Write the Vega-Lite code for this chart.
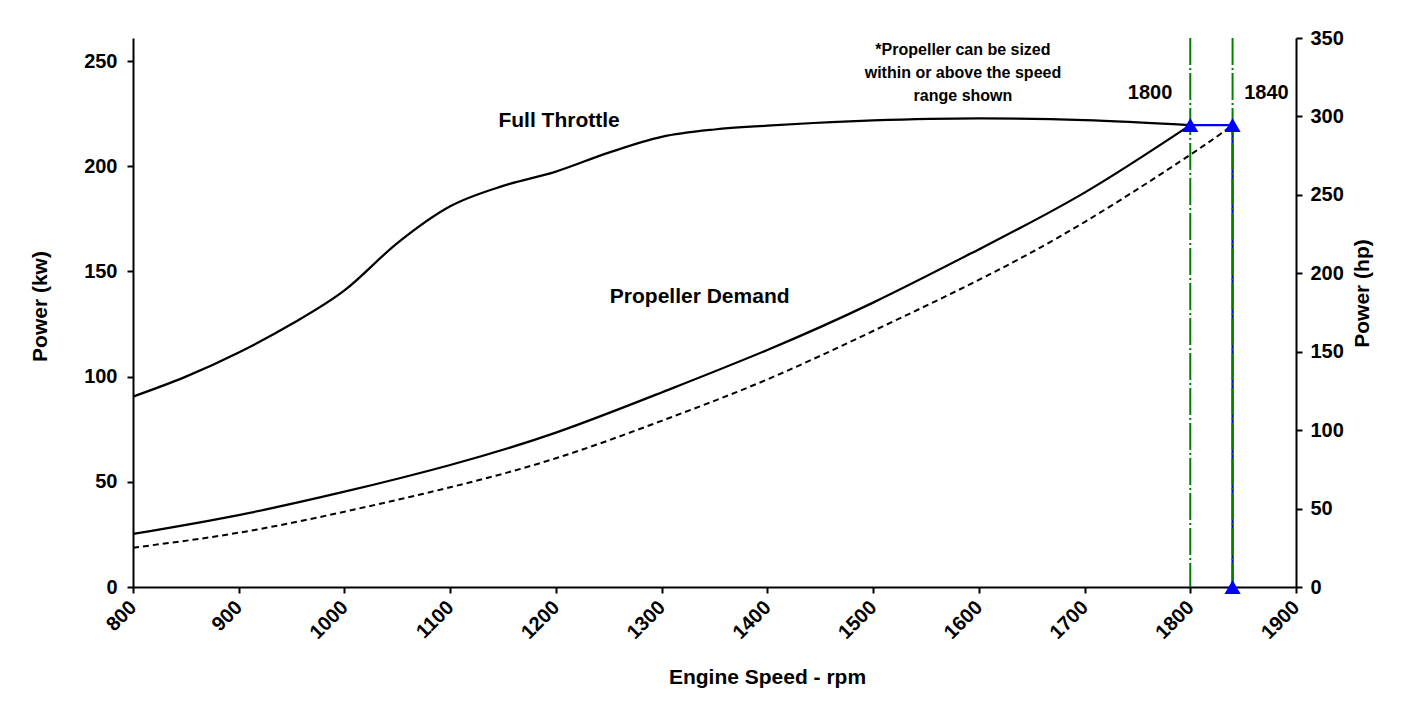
{
  "$schema": "https://vega.github.io/schema/vega-lite/v6.json",
  "width": 1163,
  "height": 549,
  "autosize": {"type": "none"},
  "padding": {"left": 133, "top": 38, "right": 108, "bottom": 125},
  "background": "white",
  "config": {
    "font": "Liberation Sans",
    "view": {"stroke": null},
    "axis": {
      "labelFont": "Liberation Sans", "labelFontSize": 20, "labelFontWeight": "bold", "labelColor": "#000",
      "titleFont": "Liberation Sans", "titleFontSize": 21, "titleFontWeight": "bold", "titleColor": "#000",
      "domainColor": "#000", "domainWidth": 2, "tickColor": "#000", "tickWidth": 2, "tickSize": 6,
      "grid": false, "labelFlush": false, "labelOverlap": false
    }
  },
  "datasets": {
    "curves": [
      {"series": "full", "rpm": 800, "kw": 90.5},
      {"series": "full", "rpm": 850, "kw": 100},
      {"series": "full", "rpm": 900, "kw": 111.5},
      {"series": "full", "rpm": 950, "kw": 125},
      {"series": "full", "rpm": 1000, "kw": 141},
      {"series": "full", "rpm": 1050, "kw": 163.5},
      {"series": "full", "rpm": 1100, "kw": 181},
      {"series": "full", "rpm": 1150, "kw": 190.7},
      {"series": "full", "rpm": 1200, "kw": 197.5},
      {"series": "full", "rpm": 1250, "kw": 206.5},
      {"series": "full", "rpm": 1300, "kw": 214},
      {"series": "full", "rpm": 1350, "kw": 217.5},
      {"series": "full", "rpm": 1400, "kw": 219.3},
      {"series": "full", "rpm": 1500, "kw": 221.8},
      {"series": "full", "rpm": 1600, "kw": 222.8},
      {"series": "full", "rpm": 1700, "kw": 222},
      {"series": "full", "rpm": 1800, "kw": 219.6},
      {"series": "prop", "rpm": 800, "kw": 25.2},
      {"series": "prop", "rpm": 900, "kw": 34.2},
      {"series": "prop", "rpm": 1000, "kw": 45.3},
      {"series": "prop", "rpm": 1100, "kw": 58},
      {"series": "prop", "rpm": 1200, "kw": 73.4},
      {"series": "prop", "rpm": 1300, "kw": 92.5},
      {"series": "prop", "rpm": 1400, "kw": 112.7},
      {"series": "prop", "rpm": 1500, "kw": 135.2},
      {"series": "prop", "rpm": 1600, "kw": 160.5},
      {"series": "prop", "rpm": 1700, "kw": 187.5},
      {"series": "prop", "rpm": 1800, "kw": 219.6},
      {"series": "propdash", "rpm": 800, "kw": 18.7},
      {"series": "propdash", "rpm": 900, "kw": 25.8},
      {"series": "propdash", "rpm": 1000, "kw": 35.8},
      {"series": "propdash", "rpm": 1100, "kw": 47.4},
      {"series": "propdash", "rpm": 1200, "kw": 61.2},
      {"series": "propdash", "rpm": 1300, "kw": 79},
      {"series": "propdash", "rpm": 1400, "kw": 98.7},
      {"series": "propdash", "rpm": 1500, "kw": 121.7},
      {"series": "propdash", "rpm": 1600, "kw": 146},
      {"series": "propdash", "rpm": 1700, "kw": 173.5},
      {"series": "propdash", "rpm": 1800, "kw": 205.5},
      {"series": "propdash", "rpm": 1840, "kw": 219.6}
    ],
    "bluepath": [
      {"seq": 1, "rpm": 1800, "kw": 219.6},
      {"seq": 2, "rpm": 1840, "kw": 219.6},
      {"seq": 3, "rpm": 1840, "kw": 0}
    ],
    "limits": [{"rpm": 1800}, {"rpm": 1840}],
    "labels": [
      {"rpm": 1203, "kw": 221.5, "text": "Full Throttle"},
      {"rpm": 1336, "kw": 137.9, "text": "Propeller Demand"}
    ],
    "speeds": [
      {"rpm": 1762, "kw": 234.8, "text": "1800"},
      {"rpm": 1872, "kw": 234.8, "text": "1840"}
    ],
    "note": [{"rpm": 1585, "kw": 255.3, "text": "*Propeller can be sized\nwithin or above the speed\nrange shown"}],
    "hp": [{"hp": 0}, {"hp": 350}]
  },
  "layer": [
    {
      "encoding": {
        "x": {
          "field": "rpm", "type": "quantitative",
          "scale": {"domain": [800, 1900], "nice": false},
          "axis": {"values": [800, 900, 1000, 1100, 1200, 1300, 1400, 1500, 1600, 1700, 1800, 1900], "format": "d",
                   "labelAngle": -45, "labelAlign": "right", "labelBaseline": "middle", "labelPadding": 11,
                   "title": "Engine Speed - rpm", "titleX": 634, "titleY": 90, "titleBaseline": "middle", "titleAlign": "center"}
        }
      },
      "layer": [
        {
          "data": {"name": "bluepath"},
          "mark": {"type": "line", "color": "#0000FF", "strokeWidth": 2.25},
          "encoding": {
            "y": {"field": "kw", "type": "quantitative", "scale": {"domain": [0, 261], "nice": false},
                  "axis": {"values": [0, 50, 100, 150, 200, 250], "title": "Power (kw)", "titleX": -93, "titleY": 268, "titleBaseline": "middle", "titleAlign": "center", "labelPadding": 10}},
            "order": {"field": "seq"}
          }
        },
        {
          "data": {"name": "limits"},
          "mark": {"type": "rule", "color": "#008000", "strokeWidth": 2, "strokeDash": [27, 3, 2, 3]},
          "encoding": {}
        },
        {
          "data": {"name": "curves"},
          "transform": [{"filter": "datum.series === 'full'"}],
          "mark": {"type": "line", "color": "#000", "strokeWidth": 2.25, "interpolate": "monotone"},
          "encoding": {"y": {"field": "kw", "type": "quantitative"}}
        },
        {
          "data": {"name": "curves"},
          "transform": [{"filter": "datum.series === 'prop'"}],
          "mark": {"type": "line", "color": "#000", "strokeWidth": 2.25, "interpolate": "natural"},
          "encoding": {"y": {"field": "kw", "type": "quantitative"}}
        },
        {
          "data": {"name": "curves"},
          "transform": [{"filter": "datum.series === 'propdash'"}],
          "mark": {"type": "line", "color": "#000", "strokeWidth": 2, "strokeDash": [6, 4], "interpolate": "natural"},
          "encoding": {"y": {"field": "kw", "type": "quantitative"}}
        },
        {
          "data": {"name": "bluepath"},
          "mark": {"type": "point", "shape": "triangle-up", "filled": true, "color": "#0000FF", "opacity": 1, "size": 260},
          "encoding": {"y": {"field": "kw", "type": "quantitative"}}
        },
        {
          "data": {"name": "labels"},
          "mark": {"type": "text", "font": "Liberation Sans", "fontSize": 21, "fontWeight": "bold", "color": "#000", "align": "center", "baseline": "middle"},
          "encoding": {"y": {"field": "kw", "type": "quantitative"}, "text": {"field": "text"}}
        },
        {
          "data": {"name": "speeds"},
          "mark": {"type": "text", "font": "Liberation Sans", "fontSize": 20, "fontWeight": "bold", "color": "#000", "align": "center", "baseline": "middle"},
          "encoding": {"y": {"field": "kw", "type": "quantitative"}, "text": {"field": "text"}}
        },
        {
          "data": {"name": "note"},
          "mark": {"type": "text", "font": "Liberation Sans", "fontSize": 16, "fontWeight": "bold", "color": "#000", "align": "center", "baseline": "middle", "lineBreak": "\n", "lineHeight": 23},
          "encoding": {"y": {"field": "kw", "type": "quantitative"}, "text": {"field": "text"}}
        }
      ]
    },
    {
      "data": {"name": "hp"},
      "mark": {"type": "point", "opacity": 0},
      "encoding": {
        "y": {"field": "hp", "type": "quantitative", "scale": {"domain": [0, 350], "nice": false},
              "axis": {"orient": "right", "values": [0, 50, 100, 150, 200, 250, 300, 350], "title": "Power (hp)",
                       "titleAngle": 270, "titleX": 66, "titleY": 255, "titleAlign": "center", "titleBaseline": "middle", "labelPadding": 8}}
      }
    }
  ],
  "resolve": {"scale": {"y": "independent"}}
}
